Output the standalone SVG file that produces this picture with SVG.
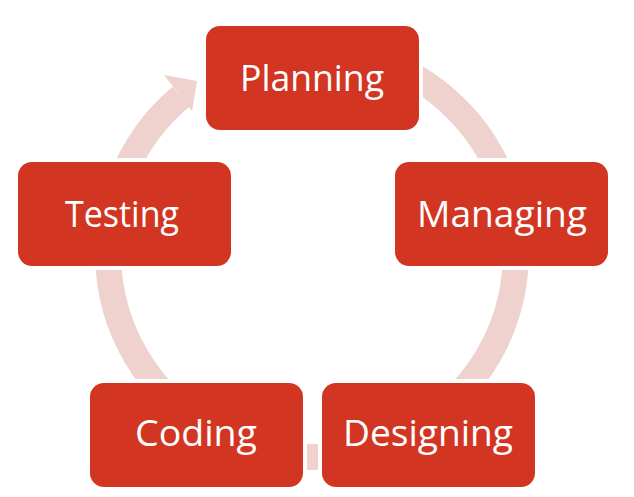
<svg xmlns="http://www.w3.org/2000/svg" width="634" height="497" viewBox="0 0 634 497">
  <style>
    .ring { fill: none; stroke: #EFD1CD; stroke-width: 26; stroke-linecap: butt; }
    .head { fill: #EFD1CD; stroke: none; }
    .box { fill: #D23623; stroke: #FFFFFF; stroke-width: 8; paint-order: stroke; }
    .lbl { fill: #FFFFFF; font-family: "Open Sans", "Noto Sans", "Liberation Sans", sans-serif; font-size: 36px; text-anchor: middle; }
  </style>
  <rect x="0" y="0" width="634" height="497" fill="#FFFFFF"/>
  <g id="connectors">
    <path class="ring" d="M 276.6 52.1 A 204 204 0 1 1 180.9 96.7"/>
    <polygon class="head" points="164,75 197,81 192,111 181,97"/>
  </g>
  <g id="node-planning">
    <rect class="box" x="206" y="26" width="213" height="104" rx="14"/>
    <text class="lbl" x="312" y="91" textLength="144" lengthAdjust="spacingAndGlyphs">Planning</text>
  </g>
  <g id="node-managing">
    <rect class="box" x="395" y="162" width="213" height="104" rx="14"/>
    <text class="lbl" x="502" y="227" textLength="170" lengthAdjust="spacingAndGlyphs">Managing</text>
  </g>
  <g id="node-designing">
    <rect class="box" x="322" y="383" width="213" height="104" rx="14"/>
    <text class="lbl" x="428" y="446" textLength="170" lengthAdjust="spacingAndGlyphs">Designing</text>
  </g>
  <g id="node-coding">
    <rect class="box" x="90" y="383" width="213" height="104" rx="14"/>
    <text class="lbl" x="196" y="446" textLength="122" lengthAdjust="spacingAndGlyphs">Coding</text>
  </g>
  <g id="node-testing">
    <rect class="box" x="18" y="162" width="213" height="104" rx="14"/>
    <text class="lbl" x="122" y="227" textLength="114" lengthAdjust="spacingAndGlyphs">Testing</text>
  </g>
</svg>
